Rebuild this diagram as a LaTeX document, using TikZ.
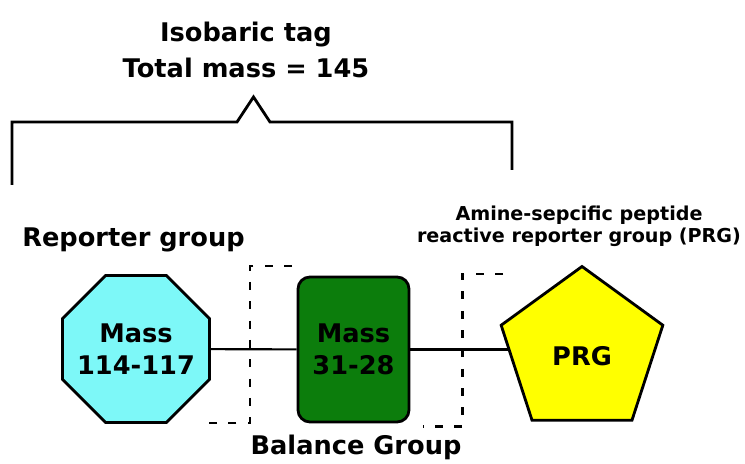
\documentclass[tikz,border=0pt]{standalone}
\usepackage{fontspec}
\setmainfont{DejaVu Sans}
\usepackage{tikz}
\usepackage[dvipsnames]{xcolor}
\usetikzlibrary{shapes.geometric}

\definecolor{reportercyan}{RGB}{125,248,248}
\definecolor{balancegreen}{RGB}{12,125,12}
\definecolor{prgyellow}{RGB}{255,255,0}

\tikzset{
  bigtext/.style={font=\fontsize{14.6}{20.5}\selectfont\bfseries, align=center},
  smalltext/.style={font=\fontsize{10.9}{12.5}\selectfont\bfseries, align=center},
  shapetext/.style={font=\fontsize{14.6}{18.2}\selectfont\bfseries, align=center},
  groupshape/.style={draw, line width=1.6pt, inner sep=0pt, shapetext},
  link/.style={line width=1.2pt},
  dashbox/.style={line width=1.3pt, dash pattern=on 4.5pt off 6.5pt},
}

\begin{document}
\begin{tikzpicture}
    \useasboundingbox (0,0) rectangle (14.9,9.28);

    %% the isobaric tag and its bracket
    \node[bigtext] (tag) at (4.92,8.28) {Isobaric tag\\Total mass = 145};
    \draw[line width=1.6pt] (0.24,5.58) -- (0.24,6.84) -- (4.74,6.84) -- (5.07,7.34)
        -- (5.40,6.84) -- (10.24,6.84) -- (10.24,5.88);

    %% labels of the groups
    \node[bigtext] (replabel) at (2.67,4.48) {Reporter group};
    \node[smalltext] (prglabel) at (11.58,4.76) {Amine-sepcific peptide\\reactive reporter group (PRG)};
    \node[bigtext] (ballabel) at (7.12,0.34) {Balance Group};

    %% the three groups
    \node[groupshape, regular polygon, regular polygon sides=8, minimum size=3.18cm,
        fill=reportercyan, label={[shapetext]center:Mass\\114-117}] (reporter) at (2.72,2.3) {};
    \node[groupshape, rectangle, rounded corners=0.24cm, minimum width=2.22cm,
        minimum height=2.9cm, fill=balancegreen] (balance) at (7.07,2.29) {Mass\\31-28};
    \node[groupshape, regular polygon, regular polygon sides=5, minimum size=3.4cm,
        fill=prgyellow, label={[shapetext, yshift=-0.1cm]center:PRG}] (prg) at (11.64,2.25) {};

    \draw[link] (reporter) -- (balance);
    \draw[link] (balance.east) -- (balance.east -| prg.west);

    %% dashed cuts round the balance group
    \draw[dashbox] (5.84,3.96) -- (5.00,3.96) -- (5.00,0.82) -- (4.10,0.82);
    \draw[dashbox] (10.06,3.80) -- (9.25,3.80) -- (9.25,0.75) -- (8.46,0.75);
\end{tikzpicture}
\end{document}
